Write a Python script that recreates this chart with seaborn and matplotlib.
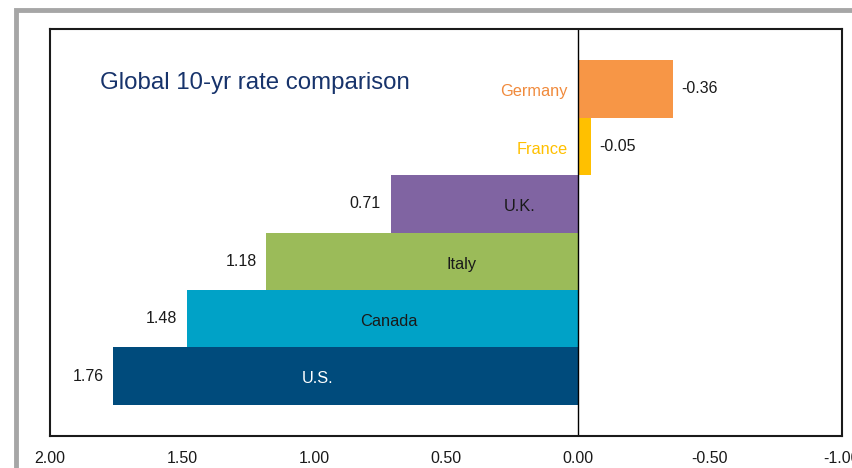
import matplotlib
matplotlib.use("Agg")
import matplotlib.pyplot as plt
import seaborn as sns
import pandas as pd
from matplotlib.patches import Rectangle

countries = ["Germany", "France", "U.K.", "Italy", "Canada", "U.S."]
rates = [-0.36, -0.05, 0.71, 1.18, 1.48, 1.76]
value_labels = ["-0.36", "-0.05", "0.71", "1.18", "1.48", "1.76"]
bar_colors = ["#F79646", "#FFC000", "#8064A2", "#9BBB59", "#00A2C7", "#004B7C"]
name_colors = ["#F08A3C", "#FFC000", "#1a1a1a", "#1a1a1a", "#1a1a1a", "#FFFFFF"]
name_x = [0.04, 0.04, 0.22, 0.44, 0.716, 0.985]
name_ha = ["right", "right", "center", "center", "center", "center"]
xticks = [2.0, 1.5, 1.0, 0.5, 0.0, -0.5, -1.0]
xtick_labels = ["2.00", "1.50", "1.00", "0.50", "0.00", "-0.50", "-1.00"]

df = pd.DataFrame({"country": countries, "rate": rates})

sns.set_style("white")
plt.rcParams["font.family"] = ["Liberation Sans", "DejaVu Sans"]

fig = plt.figure(figsize=(8.53, 4.68), dpi=100)
ax = fig.add_axes([50/853, 1-436/468, (842-50)/853, (436-29)/468])

sns.barplot(data=df, y="country", x="rate", hue="country", palette=bar_colors,
            order=countries, hue_order=countries, orient="h", width=1.0,
            legend=False, linewidth=0, saturation=1, ax=ax)

ax.set_xlim(2.0, -1.0)
ax.set_ylim(5.5 + 0.545, -0.5 - 0.545)
ax.set_xticks(xticks)
ax.set_xticklabels(xtick_labels, fontsize=11.5, color="#1a1a1a")
ax.set_yticks([])
ax.set_xlabel("")
ax.set_ylabel("")
ax.tick_params(axis="x", length=0, pad=11)
for s in ax.spines.values():
    s.set_color("#1a1a1a")
    s.set_linewidth(1.5)

ax.axvline(0, color="black", linewidth=1.0)

for i, (v, lab) in enumerate(zip(rates, value_labels)):
    if v >= 0:
        ax.annotate(lab, (v, i), xytext=(-7, 0), textcoords="offset points",
                    ha="right", va="center", fontsize=11.5, color="#1a1a1a")
    else:
        ax.annotate(lab, (v, i), xytext=(6, 0), textcoords="offset points",
                    ha="left", va="center", fontsize=11.5, color="#1a1a1a")
    ax.text(name_x[i], i + 0.05, countries[i], ha=name_ha[i], va="center",
            fontsize=11.8, color=name_colors[i])

ax.text(0.063, 0.868, "Global 10-yr rate comparison", transform=ax.transAxes,
        fontsize=17.3, color="#17336B", ha="left", va="center")

fig.patches.append(Rectangle((16/853, -0.05), 1.0, 1 - 10/468 + 0.05,
                             transform=fig.transFigure, fill=False,
                             edgecolor="#A6A6A6", linewidth=3.5, zorder=0))

fig.savefig("out.png", dpi=100)
